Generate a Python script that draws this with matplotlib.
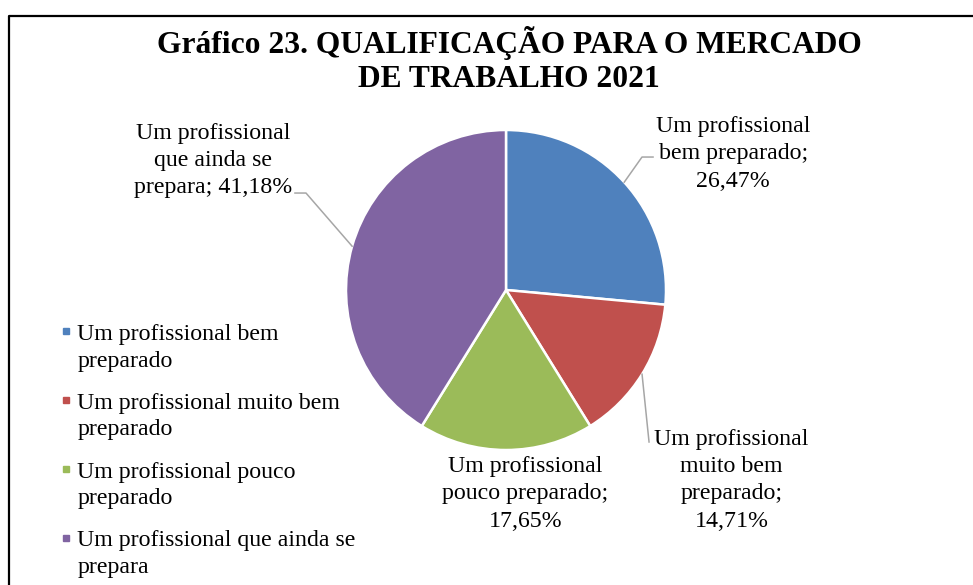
import matplotlib.pyplot as plt
from matplotlib.lines import Line2D
import numpy as np

plt.rcParams['font.family'] = ['Liberation Serif', 'DejaVu Serif']

# Dados
categorias = ['Um profissional bem preparado',
              'Um profissional muito bem preparado',
              'Um profissional pouco preparado',
              'Um profissional que ainda se prepara']
valores = [26.47, 14.71, 17.65, 41.18]
legenda = ['Um profissional bem\npreparado',
           'Um profissional muito bem\npreparado',
           'Um profissional pouco\npreparado',
           'Um profissional que ainda se\nprepara']
rotulos = ['Um profissional\nbem preparado;\n{}%',
           'Um profissional\nmuito bem\npreparado;\n{}%',
           'Um profissional\npouco preparado;\n{}%',
           'Um profissional\nque ainda se\nprepara; {}%']
cores = ['#4F81BD', '#C0504D', '#9BBB59', '#8064A2']

# posições dos rótulos (unidades do raio) e pontos das linhas guia
pos_rotulos = [(1.42, 0.85), (1.41, -1.19), (0.12, -1.275), (-1.83, 0.81)]
guias = [[(0.85, 0.831), (0.919, 0.831)],
         [(0.894, -0.95)],
         None,
         [(-1.25, 0.606), (-1.319, 0.606)]]

W, H = 973, 585
cx, cy, R = 506, 290, 160

fig = plt.figure(figsize=(W / 100, H / 100), dpi=100)
ax = fig.add_axes([0, 0, 1, 1])

wedges, _ = ax.pie(valores, colors=cores, startangle=90, counterclock=False,
                   radius=1, wedgeprops=dict(edgecolor='white', linewidth=1.8))
ax.set_xlim(-cx / R, (W - cx) / R)
ax.set_ylim(-(H - cy) / R, cy / R)
ax.axis('off')

for w, val, rot, pos, guia in zip(wedges, valores, rotulos, pos_rotulos, guias):
    txt = rot.format(f'{val:.2f}'.replace('.', ','))
    ax.text(pos[0], pos[1], txt, ha='center', va='center', multialignment='center',
            fontsize=17.2, linespacing=1.38)
    if guia:
        ang = np.deg2rad((w.theta1 + w.theta2) / 2)
        xs = [np.cos(ang)] + [p[0] for p in guia]
        ys = [np.sin(ang)] + [p[1] for p in guia]
        ax.plot(xs, ys, color='#A6A6A6', lw=1.1)

# legenda
handles = [Line2D([], [], marker='s', ls='', markersize=5, color=c) for c in cores]
leg = fig.legend(handles, legenda, loc='upper left', bbox_to_anchor=(48 / W, 1 - 312 / H),
                 frameon=False, fontsize=17.2, handlelength=0.5, handletextpad=0.22,
                 labelspacing=0.88, borderpad=0)
for t in leg.get_texts():
    t.set_linespacing(1.36)
# marcador alinhado com a primeira linha do texto
for h in leg.legend_handles:
    h.set_ydata(np.asarray(h.get_ydata()) + 11.5)

fig.text(509 / W, 1 - 60 / H, 'Gráfico 23. QUALIFICAÇÃO PARA O MERCADO\nDE TRABALHO 2021',
         ha='center', va='center', fontsize=22.7, fontweight='bold', linespacing=1.19)

# moldura
fig.add_artist(Line2D([9 / W, 9 / W, 1], [0, 1 - 15.5 / H, 1 - 15.5 / H],
                      transform=fig.transFigure, color='black', lw=1.6))

fig.savefig('out.png', dpi=100)
